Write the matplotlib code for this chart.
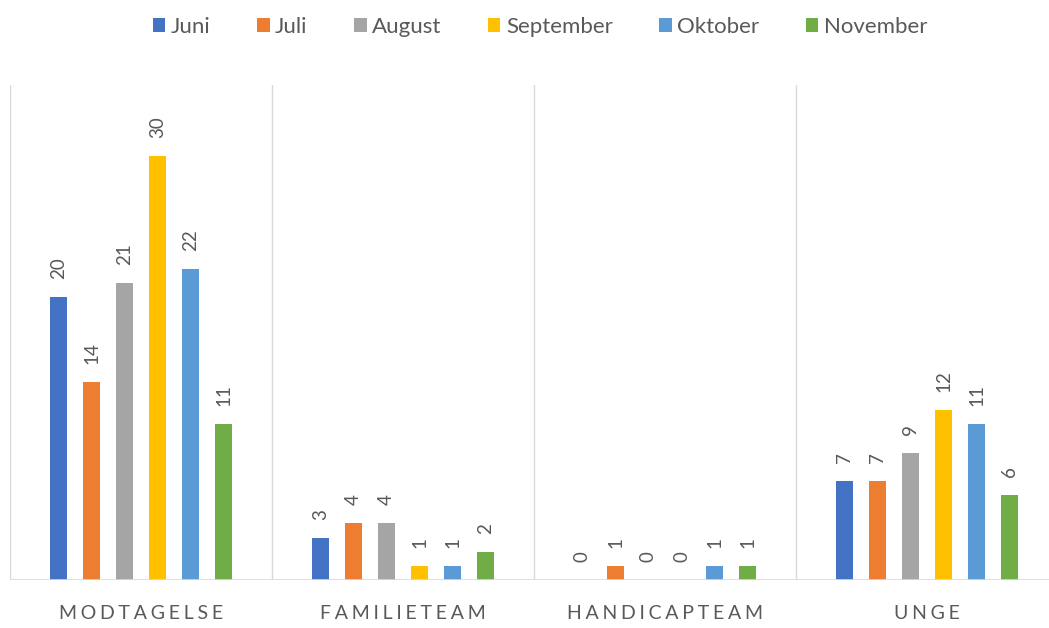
import numpy as np
import matplotlib.pyplot as plt

plt.rcParams['font.family'] = ['Lato', 'DejaVu Sans']

categories = ['MODTAGELSE', 'FAMILIETEAM', 'HANDICAPTEAM', 'UNGE']
months = ['Juni', 'Juli', 'August', 'September', 'Oktober', 'November']
juni = [20, 3, 0, 7]
juli = [14, 4, 1, 7]
august = [21, 4, 0, 9]
september = [30, 1, 0, 12]
oktober = [22, 1, 1, 11]
november = [11, 2, 1, 6]
series = [juni, juli, august, september, oktober, november]
colors = ['#4472C4', '#ED7D31', '#A5A5A5', '#FFC000', '#5B9BD5', '#70AD47']
txt = '#595959'

W, H = 1049, 628
fig = plt.figure(figsize=(W / 100, H / 100), dpi=100)
ax = fig.add_axes([10 / W, 48 / H, 1 - 10 / W, (580 - 85) / H])

x = np.arange(len(categories))
step = 0.126
width = 0.065
for i, (vals, col, name) in enumerate(zip(series, colors, months)):
    pos = x + (i - 2.5) * step
    ax.bar(pos, vals, width, color=col, label=name, zorder=2)
    for xp, v in zip(pos, vals):
        ax.annotate(str(v), (xp, v), xytext=(0, 13), textcoords='offset points',
                    rotation=90, ha='center', va='bottom', fontsize=13.5, color=txt)

# separators between groups
for s in np.arange(-0.5, len(categories) + 0.5, 1):
    ax.axvline(s, color='#D9D9D9', lw=1, zorder=1)
ax.axhline(0, color='#D9D9D9', lw=1.2, zorder=3)

ax.set_xlim(-0.5, (W - 10) / 262 - 0.5)
ax.set_ylim(0, 35)
ax.set_yticks([])
ax.set_xticks(x)
ax.set_xticklabels(['\u2009\u200a'.join(c) for c in categories], fontsize=14, color=txt)
ax.tick_params(axis='x', length=0, pad=18)
for sp in ax.spines.values():
    sp.set_visible(False)

fig.legend(loc='upper center', bbox_to_anchor=(0.515, 1.005), ncol=6, frameon=False,
           fontsize=16, labelcolor=txt, handlelength=0.55, handleheight=0.55,
           handletextpad=0.25, columnspacing=2.1)

fig.savefig('out.png', dpi=100)
